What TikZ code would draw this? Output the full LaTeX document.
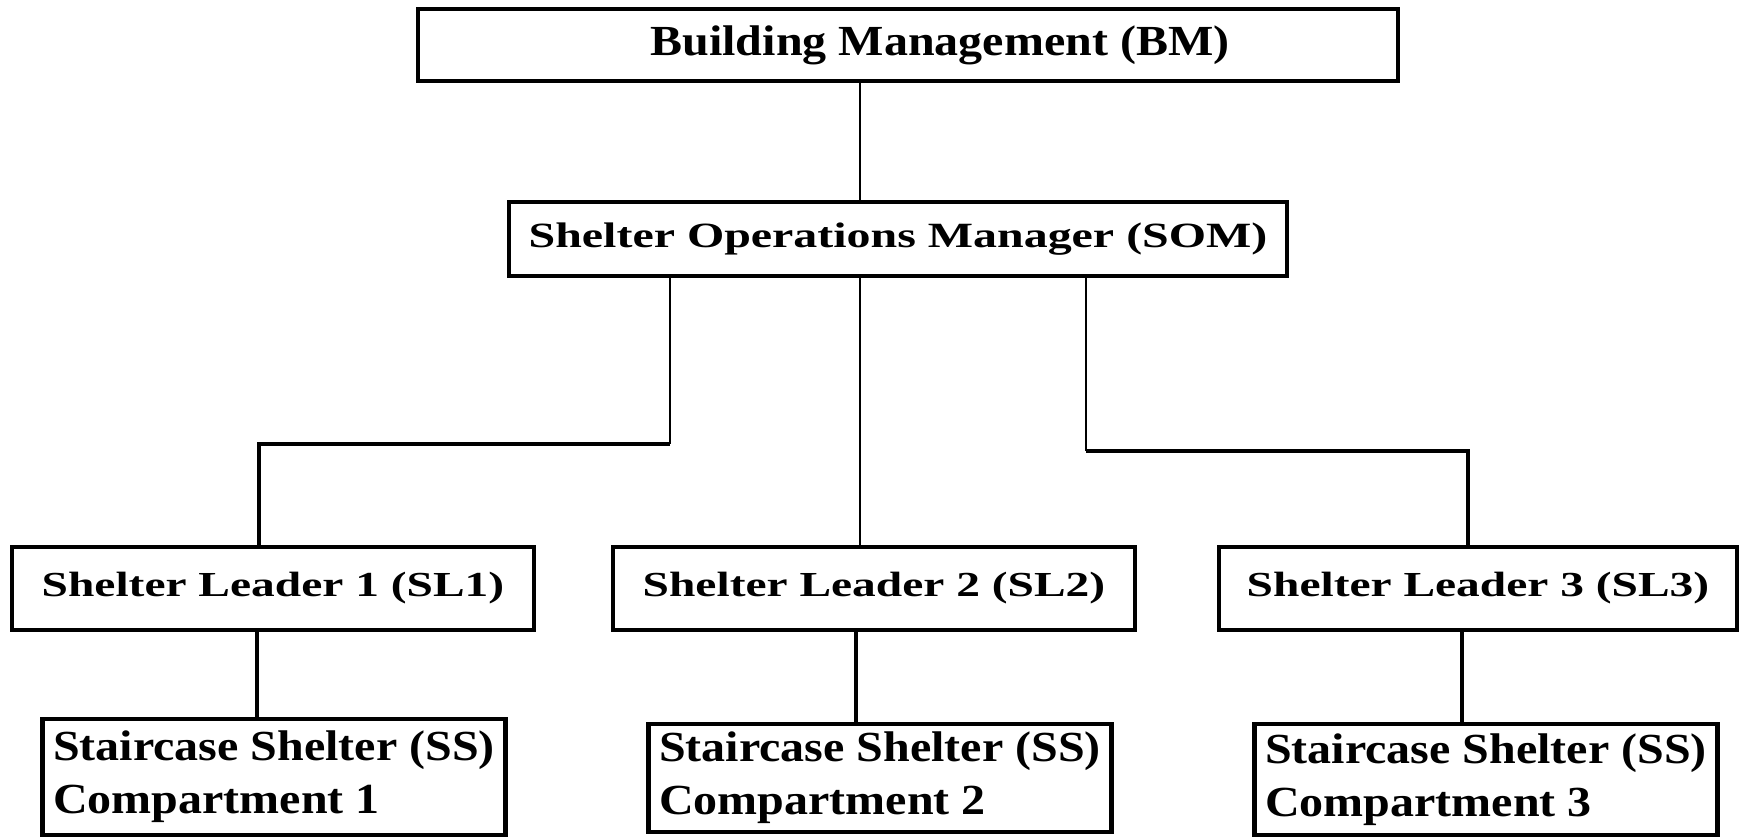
\documentclass[tikz,border=0pt]{standalone}
\usepackage{fontspec}
\setmainfont{Liberation Serif}
\newfontfamily\widefont{Liberation Serif}[FakeStretch=1.35]
\newfontfamily\plainfont{Liberation Serif}[FakeStretch=1.12]
\usepackage{tikz}

\begin{document}
\begin{tikzpicture} [
      inner sep = 0,
      headbox/.style = { draw, line width = 0.9pt, font = \plainfont\bfseries\fontsize{12.2}{14}\selectfont },
      opsbox/.style = { draw, line width = 0.9pt, font = \widefont\bfseries\fontsize{10.1}{12}\selectfont },
      leaderbox/.style = { draw, line width = 1.2pt, minimum height = 0.83cm, font = \widefont\bfseries\fontsize{10}{12}\selectfont },
      shelterbox/.style = { draw, line width = 1.4pt, minimum width = 4.63cm, align = left, font = \plainfont\bfseries\fontsize{12.2}{15.1}\selectfont },
      thinline/.style = { line width = 0.6pt },
      elbowline/.style = { line width = 1pt },
      dropline/.style = { line width = 1.1pt }
      ]
      \useasboundingbox (0,0) rectangle (17.40,8.38);

      \node [headbox, minimum width = 9.80cm, minimum height = 0.72cm] (BM) at (9.08,7.93) {\hspace*{0.64cm}Building Management (BM)};
      \node [opsbox, minimum width = 7.78cm, minimum height = 0.74cm] (SOM) at (8.98,5.99) {Shelter Operations Manager (SOM)};

      \foreach \i/\x/\w in {1/2.73/5.22, 2/8.74/5.22, 3/14.78/5.18}
        \node [leaderbox, minimum width = \w cm] (SL\i) at (\x,2.495) {Shelter Leader \i{} (SL\i)};

      \foreach \i/\x/\y/\h in {1/2.74/0.61/1.16, 2/8.80/0.60/1.08, 3/14.86/0.585/1.11}
        \node [shelterbox, minimum height = \h cm] (SS\i) at (\x,\y) {Staircase Shelter (SS)\\Compartment \i};

      \coordinate (trunk) at (8.60,0);
      \coordinate (bendL) at (6.70,3.94);
      \coordinate (cornerL) at (2.59,3.94);
      \coordinate (bendR) at (10.86,3.87);
      \coordinate (cornerR) at (14.68,3.87);

      \draw [thinline] (BM.south -| trunk) -- (SOM.north -| trunk);
      \draw [thinline] (SOM.south -| trunk) -- (SL2.north -| trunk);
      \draw [thinline] (SOM.south -| bendL) -- (bendL);
      \draw [elbowline] (bendL) -- (cornerL) -- (SL1.north -| cornerL);
      \draw [thinline] (SOM.south -| bendR) -- (bendR);
      \draw [elbowline] (bendR) -- (cornerR) -- (SL3.north -| cornerR);

      \coordinate (drop1) at (2.57,0);
      \coordinate (drop2) at (8.56,0);
      \coordinate (drop3) at (14.62,0);
      \foreach \i in {1,2,3}
        \draw [dropline] (SL\i.south -| drop\i) -- (SS\i.north -| drop\i);
\end{tikzpicture}
\end{document}
